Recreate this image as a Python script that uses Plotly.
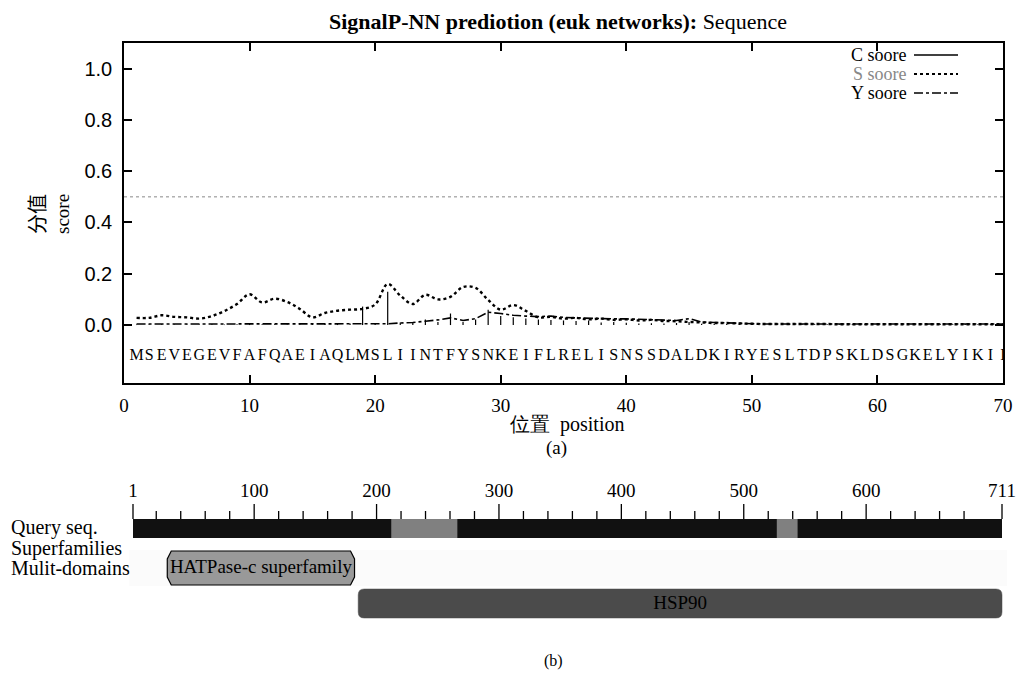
import plotly.graph_objects as go

# ---------------- data: panel (a) ----------------
positions = list(range(1, 71))
sequence = "MSEVEGEVFAFQAEIAQLMSLIINTFYSNKEIFLRELISNSSDALDKIRYESLTDPSKLDSGKELYIKII"

c_score = [0.002, 0.002, 0.003, 0.002, 0.002, 0.002, 0.003, 0.002, 0.003, 0.004,
           0.003, 0.003, 0.002, 0.003, 0.004, 0.004, 0.005, 0.006, 0.072, 0.008,
           0.130, 0.010, 0.008, 0.022, 0.012, 0.045, 0.012, 0.022, 0.060, 0.035,
           0.030, 0.026, 0.022, 0.020, 0.018, 0.016, 0.018, 0.010, 0.012, 0.009,
           0.006, 0.007, 0.006, 0.008, 0.012, 0.005, 0.004, 0.004, 0.005, 0.003,
           0.003, 0.003, 0.003, 0.003, 0.003, 0.003, 0.003, 0.003, 0.003, 0.003,
           0.003, 0.003, 0.003, 0.003, 0.003, 0.003, 0.003, 0.003, 0.003, 0.003]

s_score = [0.028, 0.028, 0.038, 0.032, 0.030, 0.025, 0.035, 0.055, 0.082, 0.120,
           0.088, 0.103, 0.090, 0.063, 0.030, 0.047, 0.056, 0.060, 0.063, 0.080,
           0.160, 0.115, 0.082, 0.118, 0.100, 0.110, 0.148, 0.145, 0.098, 0.060,
           0.078, 0.055, 0.030, 0.032, 0.025, 0.028, 0.022, 0.025, 0.020, 0.022,
           0.018, 0.020, 0.016, 0.015, 0.012, 0.010, 0.008, 0.008, 0.006, 0.005,
           0.004, 0.004, 0.004, 0.004, 0.004, 0.004, 0.003, 0.003, 0.003, 0.003,
           0.003, 0.003, 0.003, 0.003, 0.003, 0.003, 0.003, 0.003, 0.003, 0.003]

y_score = [0.004, 0.004, 0.004, 0.004, 0.004, 0.004, 0.004, 0.004, 0.004, 0.004,
           0.004, 0.004, 0.004, 0.004, 0.004, 0.004, 0.004, 0.004, 0.004, 0.004,
           0.005, 0.008, 0.010, 0.015, 0.020, 0.028, 0.018, 0.025, 0.050, 0.045,
           0.038, 0.035, 0.033, 0.035, 0.030, 0.028, 0.026, 0.025, 0.024, 0.024,
           0.022, 0.020, 0.018, 0.018, 0.025, 0.012, 0.010, 0.008, 0.007, 0.005,
           0.004, 0.004, 0.004, 0.004, 0.004, 0.004, 0.004, 0.004, 0.004, 0.004,
           0.004, 0.004, 0.004, 0.004, 0.004, 0.004, 0.004, 0.004, 0.004, 0.004]

threshold = 0.5
x_ticks_a = [0, 10, 20, 30, 40, 50, 60, 70]
y_ticks_a = [0.0, 0.2, 0.4, 0.6, 0.8, 1.0]

# ---------------- data: panel (b) ----------------
query_length = 711
gap_starts = [212, 527]
gap_ends = [266, 544]
sf_name, sf_start, sf_end = "HATPase-c superfamily", 29, 182
dom_name, dom_start, dom_end = "HSP90", 185, 711
ruler_major = [1, 100, 200, 300, 400, 500, 600, 711]
ruler_minor = [v for v in range(20, 701, 20) if v % 100 != 0]
row_labels = ["Query seq.", "Superfamilies", "Mulit-domains"]

# ---------------- layout helpers ----------------
W, H = 1020, 679
def px(x):
    return x / W
def py(y):
    return 1 - y / H

SERIF = "Liberation Serif"
SANS = "Liberation Sans"

fig = go.Figure()

# ---- panel (a) traces ----
cx, cy = [], []
for p, c in zip(positions, c_score):
    cx += [p, p, None]
    cy += [0, c, None]
fig.add_trace(go.Scatter(x=cx, y=cy, mode="lines", line=dict(color="black", width=1.2),
                         xaxis="x", yaxis="y", showlegend=False, hoverinfo="skip"))
fig.add_trace(go.Scatter(x=positions, y=s_score, mode="lines", line_shape="spline",
                         line=dict(color="black", width=2.4, dash="dot"),
                         xaxis="x", yaxis="y", showlegend=False, hoverinfo="skip"))
fig.add_trace(go.Scatter(x=positions, y=y_score, mode="lines",
                         line=dict(color="black", width=1.6, dash="dashdot"),
                         xaxis="x", yaxis="y", showlegend=False, hoverinfo="skip"))
letter_y = -0.12
fig.add_trace(go.Scatter(x=positions, y=[letter_y] * len(positions), mode="text",
                         text=list(sequence), textposition="middle center",
                         textfont=dict(family=SERIF, size=16, color="black"),
                         xaxis="x", yaxis="y", showlegend=False, hoverinfo="skip"))

# ---- panel (b) traces: ruler ----
k = (1002 - 133) / (query_length - 1)
row_px = 37.5
def rr(y):  # pixel row -> y2 units
    return (y - 528.5) / row_px

base = rr(519)
tx, ty = [], []
for v in ruler_major:
    tx += [v, v, None]; ty += [base, rr(504), None]
for v in ruler_minor:
    tx += [v, v, None]; ty += [base, rr(511), None]
fig.add_trace(go.Scatter(x=tx, y=ty, mode="lines", line=dict(color="black", width=1.3),
                         xaxis="x2", yaxis="y2", showlegend=False, hoverinfo="skip"))
fig.add_trace(go.Scatter(x=ruler_major, y=[rr(492)] * len(ruler_major), mode="text",
                         text=[str(v) for v in ruler_major], textposition="middle center",
                         textfont=dict(family=SERIF, size=19, color="black"),
                         xaxis="x2", yaxis="y2", showlegend=False, hoverinfo="skip"))
fig.add_trace(go.Scatter(x=[(sf_start + sf_end) / 2, (dom_start + dom_end) / 2],
                         y=[rr(568), rr(604)], mode="text",
                         text=[sf_name, dom_name], textposition="middle center",
                         textfont=dict(family=SERIF, size=19, color="black"),
                         xaxis="x2", yaxis="y2", showlegend=False, hoverinfo="skip"))

shapes = []
shapes.append(dict(type="line", xref="x", yref="y", x0=0, x1=70, y0=threshold, y1=threshold,
                   line=dict(color="#888888", width=1, dash="dot"), layer="below"))
shapes.append(dict(type="rect", xref="x2", yref="y2", x0=-2, x1=query_length + 4,
                   y0=rr(550), y1=rr(586), fillcolor="#fbfbfb", line=dict(width=0), layer="below"))
shapes.append(dict(type="rect", xref="x2", yref="y2", x0=1, x1=query_length,
                   y0=rr(519), y1=rr(538), fillcolor="#111111", line=dict(width=0), layer="below"))
for gs, ge in zip(gap_starts, gap_ends):
    shapes.append(dict(type="rect", xref="x2", yref="y2", x0=gs, x1=ge,
                       y0=rr(519), y1=rr(538), fillcolor="#808080", line=dict(width=0),
                       layer="below"))

def chamfer(x0, x1, y0, y1, cxu, cyu):
    return (f"M{x0+cxu},{y0} L{x1-cxu},{y0} L{x1},{y0+cyu} L{x1},{y1-cyu} "
            f"L{x1-cxu},{y1} L{x0+cxu},{y1} L{x0},{y1-cyu} L{x0},{y0+cyu} Z")
shapes.append(dict(type="path", xref="x2", yref="y2",
                   path=chamfer(sf_start, sf_end, rr(551), rr(585), 4 / k, 8 / row_px),
                   fillcolor="#999999", line=dict(color="black", width=1.2), layer="below"))

def rounded(x0, x1, y0, y1, rx, ry):
    return (f"M{x0+rx},{y0} L{x1-rx},{y0} Q{x1},{y0} {x1},{y0+ry} L{x1},{y1-ry} "
            f"Q{x1},{y1} {x1-rx},{y1} L{x0+rx},{y1} Q{x0},{y1} {x0},{y1-ry} "
            f"L{x0},{y0+ry} Q{x0},{y0} {x0+rx},{y0} Z")
shapes.append(dict(type="path", xref="x2", yref="y2",
                   path=rounded(dom_start, dom_end, rr(589), rr(618), 6 / k, 6 / row_px),
                   fillcolor="#4b4b4b", line=dict(color="#4b4b4b", width=0.5), layer="below"))

legend_rows = [("C soore", "black", "solid", 55), ("S soore", "#888888", "dot", 74),
               ("Y soore", "black", "dashdot", 93)]
annotations = []
for name, col, dash, yy in legend_rows:
    shapes.append(dict(type="line", xref="paper", yref="paper", x0=px(914), x1=px(958),
                       y0=py(yy), y1=py(yy),
                       line=dict(color="black", width=1.6 if dash != "dot" else 2.2, dash=dash)))
    annotations.append(dict(xref="paper", yref="paper", x=px(909), y=py(yy), xanchor="right",
                            yanchor="middle", text=name, showarrow=False,
                            font=dict(family=SERIF, size=18, color=col)))

annotations += [
    dict(xref="paper", yref="paper", x=px(558), y=py(22), text="<b>SignalP-NN prediotion (euk networks):</b> Sequence",
         showarrow=False, xanchor="center", yanchor="middle", font=dict(family=SERIF, size=22, color="black")),
    dict(xref="paper", yref="paper", x=px(36), y=py(214), text="分值", textangle=-90,
         showarrow=False, xanchor="center", yanchor="middle", font=dict(family="Noto Sans CJK SC", size=20, color="black")),
    dict(xref="paper", yref="paper", x=px(62), y=py(214), text="score", textangle=-90,
         showarrow=False, xanchor="center", yanchor="middle", font=dict(family=SERIF, size=19, color="black")),
    dict(xref="paper", yref="paper", x=px(567), y=py(424), text="位置  position",
         showarrow=False, xanchor="center", yanchor="middle", font=dict(family=SERIF, size=20, color="black")),
    dict(xref="paper", yref="paper", x=px(556), y=py(448), text="(a)",
         showarrow=False, xanchor="center", yanchor="middle", font=dict(family=SERIF, size=19, color="black")),
    dict(xref="paper", yref="paper", x=px(553), y=py(661), text="(b)",
         showarrow=False, xanchor="center", yanchor="middle", font=dict(family=SERIF, size=16, color="black")),
]
for lab, yy in zip(row_labels, [527, 548, 568]):
    annotations.append(dict(xref="paper", yref="paper", x=px(9), y=py(yy), text=lab,
                            showarrow=False, xanchor="left", yanchor="middle",
                            font=dict(family=SERIF, size=20, color="black")))

axis_common = dict(showline=True, linecolor="black", linewidth=1.5, mirror="allticks",
                   ticks="inside", ticklen=8, tickwidth=1.5, tickcolor="black",
                   showgrid=False, zeroline=False)

fig.update_layout(
    width=W, height=H, margin=dict(l=0, r=0, t=0, b=0, autoexpand=False),
    paper_bgcolor="white", plot_bgcolor="white", hovermode=False,
    xaxis=dict(domain=[px(124), px(1003)], range=[0, 70], tickvals=x_ticks_a,
               ticktext=[str(v) for v in x_ticks_a], anchor="y",
               tickfont=dict(family=SERIF, size=19, color="black"), ticklabelstandoff=4,
               **axis_common),
    yaxis=dict(domain=[py(383), py(43)], range=[-0.226, 1.1], tickvals=y_ticks_a,
               ticktext=[f"{v:.1f}" for v in y_ticks_a], anchor="x",
               tickfont=dict(family=SANS, size=20, color="black"), ticklabelstandoff=6,
               **axis_common),
    xaxis2=dict(domain=[0, 1], range=[1 - 133 / k, 1 + (W - 133) / k], anchor="y2", visible=False),
    yaxis2=dict(domain=[0, py(480)], range=[rr(679), rr(480)], anchor="x2", visible=False),
    shapes=shapes, annotations=annotations,
)

fig.write_html("out.html",
               config={"displayModeBar": False, "responsive": False},
               post_script="document.documentElement.style.margin='0';document.body.style.margin='0';"
                           "document.documentElement.style.overflow='hidden';document.body.style.overflow='hidden';")
